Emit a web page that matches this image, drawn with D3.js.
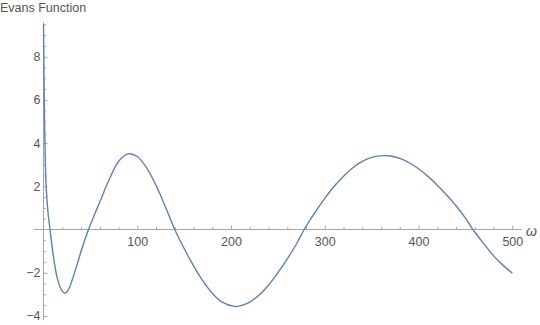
<!DOCTYPE html>
<html>
<head>
<meta charset="utf-8">
<script src="https://cdn.jsdelivr.net/npm/d3@7"></script>
<style>
    body { margin: 0; background: #fff; }
    svg { display: block; }
    text { font-family: "Liberation Sans", Arial, sans-serif; }
</style>
</head>
<body>
<div id="chart"></div>
<script>
// values
var omega = [0, 0.5, 1, 1.5, 2.5, 4, 5.5, 7, 9, 12, 15, 19, 23, 27, 32, 37, 42, 48,
    55, 60, 70, 80, 90, 100, 110, 120, 130, 140,
    150, 160, 170, 180, 190, 204, 210, 220, 230, 240, 250, 260, 270, 278,
    290, 300, 310, 320, 330, 340, 350, 363, 370, 380, 390, 400, 410, 420, 430, 440, 450, 458,
    470, 480, 490, 500];
var evans = [9.5, 7.2, 5.4, 4.1, 2.3, 1.2, 0.5, 0, -0.75, -1.65, -2.3, -2.78, -2.95, -2.75, -2.15, -1.45, -0.75, 0,
    0.75, 1.27, 2.3, 3.15, 3.5, 3.38, 2.85, 2.05, 1.05, 0,
    -0.88, -1.68, -2.38, -2.95, -3.35, -3.56, -3.53, -3.36, -3.03, -2.58, -2.0, -1.36, -0.66, 0,
    0.82, 1.44, 2.0, 2.47, 2.86, 3.15, 3.34, 3.42, 3.4, 3.29, 3.09, 2.81, 2.46, 2.05, 1.6, 1.1, 0.53, 0,
    -0.68, -1.22, -1.65, -2.02];

var xTicks = [100, 200, 300, 400, 500];
var yTicks = [-4, -2, 2, 4, 6, 8];
var xMinor = d3.range(20, 501, 20).filter(function(d) { return d % 100 !== 0; });
var yMinor = d3.range(-4, 9.6, 0.5).filter(function(d) { return d % 2 !== 0; });

var width = 540, height = 325;
var svg = d3.select('#chart').append('svg')
    .attr('width', width)
    .attr('height', height);

var x = d3.scaleLinear().domain([0, 500]).range([43.5, 512.3]);
var y = d3.scaleLinear().domain([0, 8]).range([229.5, 56.7]);

var axisColor = '#a6a6a6',
    labelColor = '#555';

// axis lines
svg.append('line')
    .attr('x1', x(-10)).attr('x2', x(510))
    .attr('y1', y(0)).attr('y2', y(0))
    .attr('stroke', axisColor).attr('stroke-width', 1);
svg.append('line')
    .attr('x1', x(0)).attr('x2', x(0))
    .attr('y1', y(9.6)).attr('y2', y(-4.2))
    .attr('stroke', axisColor).attr('stroke-width', 1);

// x ticks
var gx = svg.append('g').attr('transform', 'translate(0,' + y(0) + ')')
    .call(d3.axisBottom(x).tickValues(xTicks).tickSize(-4).tickPadding(7.5));
var gxm = svg.append('g').attr('transform', 'translate(0,' + y(0) + ')')
    .call(d3.axisBottom(x).tickValues(xMinor).tickSize(-2.5).tickFormat(''));

// y ticks
var fmt = function(d) { return d < 0 ? '\u2212' + Math.abs(d) : d; };
var gy = svg.append('g').attr('transform', 'translate(' + x(0) + ',0)')
    .call(d3.axisLeft(y).tickValues(yTicks).tickSize(-4).tickPadding(3).tickFormat(fmt));
var gym = svg.append('g').attr('transform', 'translate(' + x(0) + ',0)')
    .call(d3.axisLeft(y).tickValues(yMinor).tickSize(-2.5).tickFormat(''));

[gx, gxm, gy, gym].forEach(function(g) {
    g.select('.domain').remove();
    g.selectAll('line').attr('stroke', axisColor);
    g.selectAll('text')
        .attr('fill', labelColor)
        .style('font-size', '12.5px')
        .style('font-family', '"Liberation Sans", Arial, sans-serif');
});

// curve
var line = d3.line()
    .x(function(d, i) { return x(omega[i]); })
    .y(function(d) { return y(d); })
    .curve(d3.curveCatmullRom.alpha(0.5));

svg.append('path')
    .datum(evans)
    .attr('d', line)
    .attr('fill', 'none')
    .attr('stroke', '#5e81b5')
    .attr('stroke-width', 1.4);

// labels
svg.append('text')
    .attr('x', 0).attr('y', 12)
    .attr('fill', labelColor)
    .style('font-size', '12.5px')
    .text('Evans Function');

svg.append('text')
    .attr('x', 526).attr('y', 236)
    .attr('fill', labelColor)
    .style('font-size', '14px')
    .style('font-style', 'italic')
    .text('\u03c9');
</script>
</body>
</html>
